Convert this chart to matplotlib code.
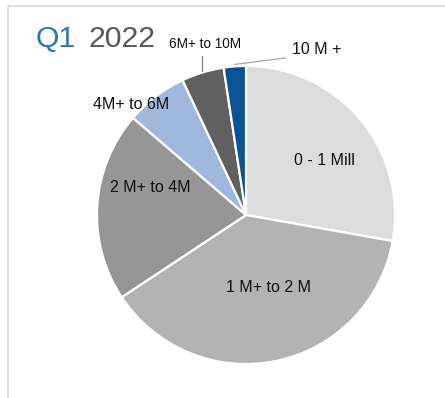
import matplotlib
matplotlib.use("Agg")
import matplotlib.pyplot as plt
import numpy as np

plt.rcParams['font.family'] = ['Liberation Sans', 'DejaVu Sans']

categories = ["0 - 1 Mill", "1 M+ to 2 M", "2 M+ to 4M", "4M+ to 6M", "6M+ to 10M", "10 M +"]
values = [27.8, 37.9, 20.6, 6.7, 4.6, 2.4]
colors = ["#DCDCDC", "#B3B3B3", "#969696", "#A0B8DC", "#606060", "#0B5394"]

W, H = 445, 398
fig = plt.figure(figsize=(W / 100, H / 100), dpi=100)
ax = fig.add_axes([0, 0, 1, 1])

cx, cy, R = 246, H - 215, 149
wedges, _ = ax.pie(values, colors=colors, startangle=90, counterclock=False,
                   center=(cx, cy), radius=R,
                   wedgeprops=dict(edgecolor="white", linewidth=1.6))
ax.set_xlim(0, W)
ax.set_ylim(0, H)
ax.set_aspect('equal')
ax.axis('off')

# frame
ax.plot([8, 8], [0, H - 6], color="#D9D9D9", lw=1.2, solid_capstyle='butt')
ax.plot([8, W], [H - 6, H - 6], color="#D9D9D9", lw=1.2, solid_capstyle='butt')

# title
ax.text(36, H - 47, "Q1", color="#2E75B6", fontsize=21.8, ha='left', va='baseline')
ax.text(89, H - 47, "2022", color="#595959", fontsize=21.8, ha='left', va='baseline')

# label placement (distance as fraction of radius, angle in degrees)
label_pos = [(0.64, 35), (0.51, -73), (0.67, 164), (1.07, 136), (1.18, 103.5), (1.21, 67)]
sizes = [11.5, 11.5, 11.5, 11.5, 9.8, 11.5]
for w, lab, (d, a), fs in zip(wedges, categories, label_pos, sizes):
    x = cx + d * R * np.cos(np.radians(a))
    y = cy + d * R * np.sin(np.radians(a))
    ax.text(x, y, lab, fontsize=fs, ha='center', va='center', color="#111111")

# leader lines for small slices
for idx, (ex, ey) in zip([4, 5], [(202, H - 56), (285, H - 58)]):
    w = wedges[idx]
    mid = np.radians((w.theta1 + w.theta2) / 2)
    sx = cx + (R + 2) * np.cos(mid)
    sy = cy + (R + 2) * np.sin(mid)
    if idx == 4:
        ax.plot([ex, ex], [sy, ey], color="#7F7F7F", lw=0.9)
    else:
        ax.plot([sx, ex], [sy, ey], color="#A6A6A6", lw=0.9)

fig.savefig("out.png", dpi=100)
